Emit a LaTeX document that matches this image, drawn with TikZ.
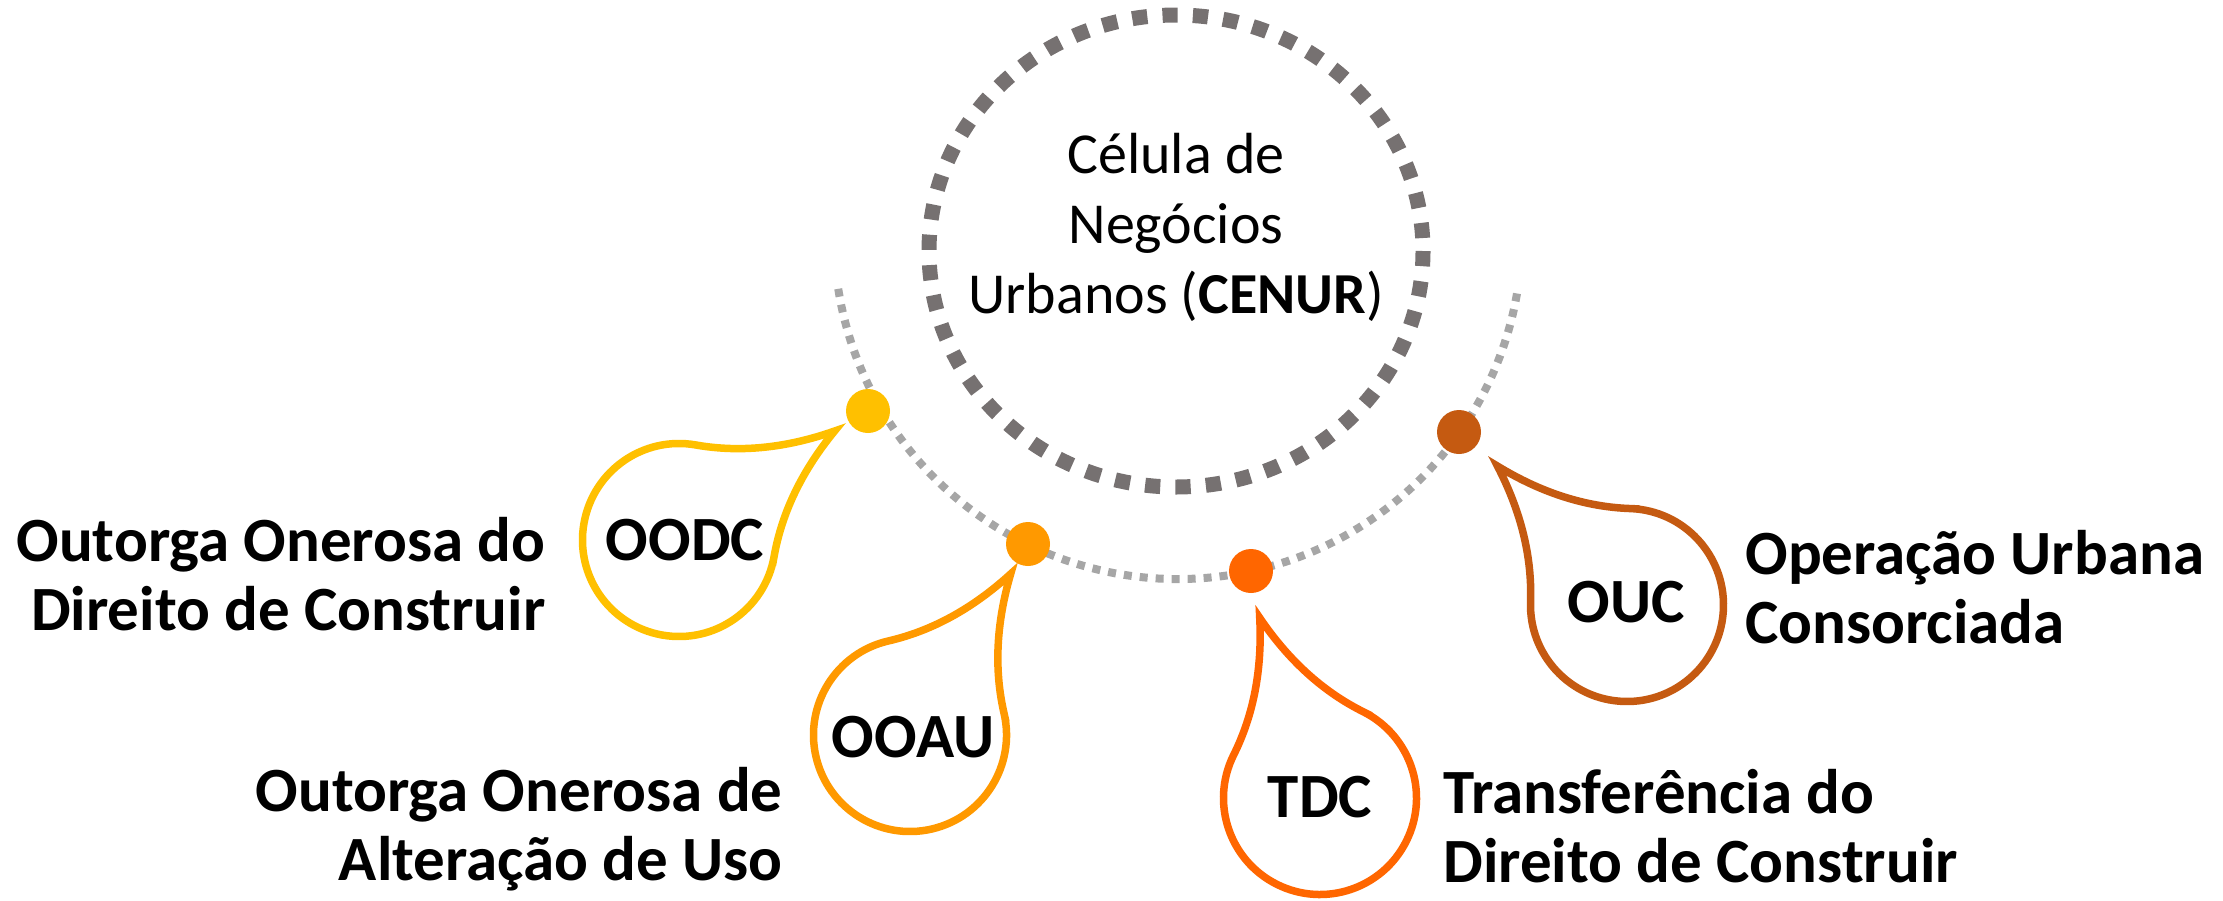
\documentclass[tikz,border=0pt]{standalone}
\usepackage{fontspec}
\setmainfont{Carlito}
\usetikzlibrary{calc}
\definecolor{cOODC}{HTML}{FFC000}
\definecolor{cOOAU}{HTML}{FF9900}
\definecolor{cTDC}{HTML}{FF6600}
\definecolor{cOUC}{HTML}{C55A11}
\definecolor{ringgray}{HTML}{767171}
\definecolor{arcgray}{HTML}{A6A6A6}
\newcommand\dropshape[4]{%
  \begin{scope}[shift={(#1,#2)}, rotate=#3]
    \draw[dropline=#4] (68.24,68.24) .. controls (99.91,36.57) and (140.49,13.82) .. (190,0)
      .. controls (140.49,-13.82) and (99.91,-36.57) .. (68.24,-68.24)
      arc[start angle=-45, end angle=-315, radius=96.5] -- cycle;
  \end{scope}}
\begin{document}
\begin{tikzpicture}[x=0.5pt,y=-0.5pt,
  ring/.style={draw=ringgray, line width=7.5pt, dash pattern=on 7.6pt off 7.6pt},
  orbit/.style={draw=arcgray, line width=4pt, dash pattern=on 4pt off 4pt},
  dotnode/.style={circle, fill=#1, minimum size=22pt, inner sep=0pt},
  dropline/.style={draw=#1, line width=3.75pt, line join=miter, fill=white},
  droptext/.style={font=\bfseries\fontsize{31.5pt}{34pt}\selectfont, inner sep=0pt},
  lbl/.style={font=\bfseries\fontsize{31.5pt}{34.5pt}\selectfont, inner sep=0pt},
  centertext/.style={font=\fontsize{29pt}{35pt}\selectfont, inner sep=0pt, align=center},
]
\useasboundingbox (0,0) rectangle (2223,900);
% central ring
\coordinate (ringC) at (1176,251);
\draw[ring] (ringC) ellipse [x radius=247, y radius=236];
\node[centertext, anchor=base] (cenur) at (1176,313) {Célula de\\Negócios\\Urbanos (\textbf{CENUR})};
% orbit arc
\coordinate (orbitC) at (1178,235);
\draw[orbit] ([shift={(171:344)}]orbitC) arc[start angle=171, end angle=9, radius=344];
% drops
\dropshape{679}{540}{35}{cOODC}
\dropshape{910}{735}{58}{cOOAU}
\dropshape{1320}{798}{108.5}{cTDC}
\dropshape{1627}{605}{133}{cOUC}
% dots
\node[dotnode=cOODC] (dOODC) at (868,411) {};
\node[dotnode=cOOAU] (dOOAU) at (1028,544) {};
\node[dotnode=cTDC] (dTDC) at (1251,571) {};
\node[dotnode=cOUC] (dOUC) at (1459,432) {};
% drop texts
\node[droptext, anchor=base] (tOODC) at (685,560) {OODC};
\node[droptext, anchor=base] (tOOAU) at (913,757) {OOAU};
\node[droptext, anchor=base] (tTDC) at (1320,817) {TDC};
\node[droptext, anchor=base] (tOUC) at (1626,622) {OUC};
% labels
\node[lbl, anchor=base east, align=right] (lOODC) at (546,630) {Outorga Onerosa do\\Direito de Construir};
\node[lbl, anchor=base east, align=right] (lOOAU) at (783,880) {Outorga Onerosa de\\Alteração de Uso};
\node[lbl, anchor=base west, align=left] (lTDC) at (1443,882) {Transferência do\\Direito de Construir};
\node[lbl, anchor=base west, align=left] (lOUC) at (1745,643) {Operação Urbana\\Consorciada};
\end{tikzpicture}
\end{document}
